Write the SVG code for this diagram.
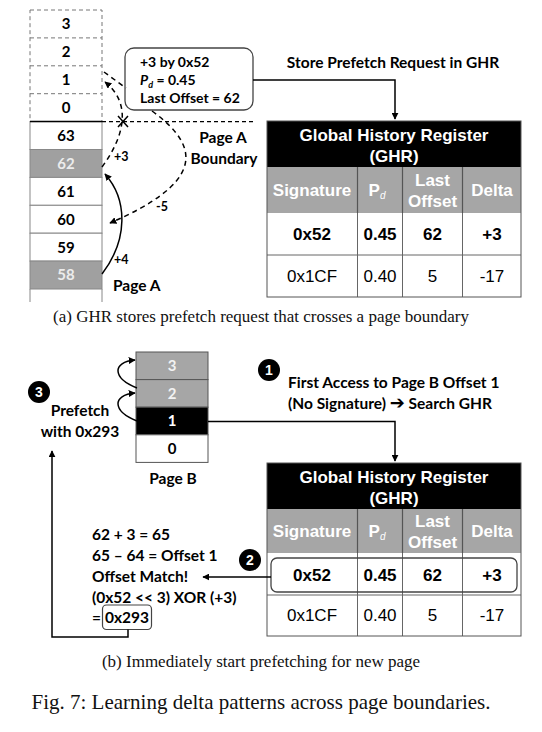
<svg xmlns="http://www.w3.org/2000/svg" width="542" height="732" viewBox="0 0 542 732">
<style>
.lb{font-family:Lato,"Open Sans","Liberation Sans",sans-serif;font-weight:bold;font-size:15.5px;fill:#000}
.co{font-size:14px}
.sm{font-size:12.5px}
.num{font-family:Lato,"Open Sans","Liberation Sans",sans-serif;font-weight:bold;font-size:15px;text-anchor:middle}
.cn{font-family:"Liberation Sans",Arial,sans-serif;font-weight:bold;font-size:14px;text-anchor:middle;fill:#fff}
.tb{font-family:"Liberation Sans",Arial,sans-serif;font-size:17px;text-anchor:middle}
.th{font-weight:bold;fill:#fff}
.cap{font-family:"Liberation Serif","Times New Roman",serif;font-size:17px;text-anchor:middle;fill:#111}
.fig{font-size:21px}
.dash{fill:none;stroke:#000;stroke-width:1.5;stroke-dasharray:5,4}
.sol{fill:none;stroke:#000;stroke-width:1.5}
.cell{stroke:#666;stroke-width:1}
.gridl{stroke:#555;stroke-width:1.2}
</style>
<defs>
<marker id="ah" viewBox="0 0 10 10" refX="9" refY="5" markerWidth="7" markerHeight="7" orient="auto" markerUnits="userSpaceOnUse">
<path d="M0,0 L10,5 L0,10 z" fill="#000"/>
</marker>
</defs>

<!-- Page A column -->
<g id="pageA">
<rect x="30" y="10" width="72" height="111.6" fill="#fff" stroke="#777" stroke-width="1" stroke-dasharray="4,3"/>
<line x1="30" y1="37.9" x2="102" y2="37.9" stroke="#777" stroke-dasharray="4,3"/>
<line x1="30" y1="65.8" x2="102" y2="65.8" stroke="#777" stroke-dasharray="4,3"/>
<line x1="30" y1="93.7" x2="102" y2="93.7" stroke="#777" stroke-dasharray="4,3"/>
<rect x="30" y="121.6" width="72" height="27.9" fill="#fff" stroke="#888"/>
<rect x="30" y="149.5" width="72" height="27.9" fill="#a0a0a0" stroke="#888"/>
<rect x="30" y="177.4" width="72" height="27.9" fill="#fff" stroke="#888"/>
<rect x="30" y="205.3" width="72" height="27.9" fill="#fff" stroke="#888"/>
<rect x="30" y="233.2" width="72" height="27.9" fill="#fff" stroke="#888"/>
<rect x="30" y="261.1" width="72" height="27.9" fill="#a0a0a0" stroke="#888"/>
<line x1="30" y1="289" x2="30" y2="302" stroke="#888"/>
<line x1="102" y1="289" x2="102" y2="302" stroke="#888"/>
<text class="num" x="66" y="29">3</text>
<text class="num" x="66" y="57">2</text>
<text class="num" x="66" y="85">1</text>
<text class="num" x="66" y="113">0</text>
<text class="num" x="66" y="141">63</text>
<text class="num" x="66" y="169" fill="#ececec">62</text>
<text class="num" x="66" y="197">61</text>
<text class="num" x="66" y="225">60</text>
<text class="num" x="66" y="253">59</text>
<text class="num" x="66" y="280" fill="#ececec">58</text>
<text class="lb" x="113" y="291">Page A</text>
</g>

<!-- boundary -->
<g id="boundary">
<line x1="30" y1="121.6" x2="102" y2="121.6" stroke="#000" stroke-width="1.5"/>
<line x1="102" y1="121.6" x2="256" y2="121.6" stroke="#000" stroke-width="1.2" stroke-dasharray="4,3"/>
<text class="lb" x="223" y="143" text-anchor="middle">Page A</text>
<text class="lb" x="224" y="164" text-anchor="middle">Boundary</text>
</g>

<!-- callout -->
<g id="callout">
<rect x="125" y="48" width="128" height="62" rx="9" fill="#fff" stroke="#444" stroke-width="1.3"/>
<text class="lb co" x="140" y="67">+3 by 0x52</text>
<text class="lb co" x="140" y="85"><tspan font-style="italic">P</tspan><tspan font-style="italic" font-size="9" dy="3">d</tspan><tspan dy="-3"> = 0.45</tspan></text>
<text class="lb co" x="140" y="103">Last Offset = 62</text>
</g>
<text class="lb" x="393" y="68" text-anchor="middle">Store Prefetch Request in GHR</text>

<!-- table A -->
<g id="ghrA">
<rect x="267" y="121" width="254" height="46" fill="#000"/>
<rect x="267" y="167" width="254" height="46" fill="#a6a6a6"/>
<rect x="267" y="213" width="254" height="84" fill="#fff"/>
<line class="gridl" x1="357.5" y1="167" x2="357.5" y2="213"/>
<line class="gridl" x1="402.5" y1="167" x2="402.5" y2="213"/>
<line class="gridl" x1="462.5" y1="167" x2="462.5" y2="213"/>
<line class="cell" x1="357.5" y1="213" x2="357.5" y2="297"/>
<line class="cell" x1="402.5" y1="213" x2="402.5" y2="297"/>
<line class="cell" x1="462.5" y1="213" x2="462.5" y2="297"/>
<line class="cell" x1="267" y1="255" x2="521" y2="255"/>
<rect x="267" y="121" width="254" height="176" fill="none" stroke="#555" stroke-width="1"/>
<text class="tb th" x="394" y="141">Global History Register</text>
<text class="tb th" x="394" y="162">(GHR)</text>
<text class="tb th" x="312" y="196">Signature</text>
<text class="tb th" x="377" y="196">P<tspan font-size="10" font-style="italic" font-weight="normal" dy="3">d</tspan></text>
<text class="tb th" x="432.5" y="186">Last</text>
<text class="tb th" x="432.5" y="207">Offset</text>
<text class="tb th" x="492" y="196">Delta</text>
<text class="tb" x="312" y="240" font-weight="bold">0x52</text>
<text class="tb" x="380" y="240" font-weight="bold">0.45</text>
<text class="tb" x="432.5" y="240" font-weight="bold">62</text>
<text class="tb" x="492" y="240" font-weight="bold">+3</text>
<text class="tb" x="312" y="282">0x1CF</text>
<text class="tb" x="380" y="282">0.40</text>
<text class="tb" x="432.5" y="282">5</text>
<text class="tb" x="492" y="282">-17</text>
</g>

<!-- connectors A -->
<g id="connectorsA">
<path class="sol" d="M102,274 C128,240 128,200 105,174" marker-end="url(#ah)"/>
<path class="dash" d="M102,167 C122,140 134,105 105,82" marker-end="url(#ah)"/>
<path class="dash" d="M104,72 L126,88"/>
<path class="dash" d="M152,111 C206,150 198,185 110,223" marker-end="url(#ah)"/>
<path d="M118,116 L128,127 M128,116 L118,127" stroke="#000" stroke-width="1.5"/>
<path class="sol" d="M253,80 H395 V119" marker-end="url(#ah)"/>
<text class="lb sm" x="114" y="161">+3</text>
<text class="lb sm" x="114" y="264">+4</text>
<text class="lb sm" x="156" y="211">-5</text>
</g>

<text class="cap" x="261" y="322">(a) GHR stores prefetch request that crosses a page boundary</text>

<!-- Page B column -->
<g id="pageB">
<rect x="136" y="352" width="72" height="27.6" fill="#a6a6a6" stroke="#555"/>
<rect x="136" y="379.6" width="72" height="27.6" fill="#a6a6a6" stroke="#555"/>
<rect x="136" y="407.2" width="72" height="27.6" fill="#000" stroke="#555"/>
<rect x="136" y="434.8" width="72" height="27.6" fill="#fff" stroke="#555"/>
<text class="num" x="172" y="371" fill="#f2f2f2">3</text>
<text class="num" x="172" y="399" fill="#f2f2f2">2</text>
<text class="num" x="172" y="426" fill="#fff">1</text>
<text class="num" x="172" y="454">0</text>
<text class="lb" x="173" y="484" text-anchor="middle">Page B</text>
</g>

<g id="step3">
<circle cx="39" cy="392" r="11" fill="#000"/>
<text class="cn" x="39" y="397">3</text>
<text class="lb" x="80" y="416" text-anchor="middle">Prefetch</text>
<text class="lb" x="80" y="437" text-anchor="middle">with 0x293</text>
</g>

<g id="step1">
<circle cx="269" cy="370" r="11" fill="#000"/>
<text class="cn" x="269" y="375">1</text>
<text class="lb" x="288" y="388">First Access to Page B Offset 1</text>
<text class="lb" x="288" y="409">(No Signature) <tspan font-family="'DejaVu Sans',sans-serif" font-size="18">➔</tspan> Search GHR</text>
</g>

<g id="step2">
<circle cx="250" cy="560" r="11" fill="#000"/>
<text class="cn" x="250" y="565">2</text>
<text class="lb" x="92" y="540">62 + 3 = 65</text>
<text class="lb" x="92" y="561">65 – 64 = Offset 1</text>
<text class="lb" x="92" y="582">Offset Match!</text>
<text class="lb" x="92" y="603">(0x52 &lt;&lt; 3) XOR (+3)</text>
<text class="lb" x="92" y="623">=</text>
<rect x="102.5" y="605" width="49" height="24.5" rx="4" fill="none" stroke="#444" stroke-width="1.2"/>
<text class="lb" x="105" y="623">0x293</text>
</g>

<!-- table B -->
<g id="ghrB">
<rect x="267" y="463" width="254" height="46" fill="#000"/>
<rect x="267" y="509" width="254" height="44" fill="#a6a6a6"/>
<rect x="267" y="553" width="254" height="83" fill="#fff"/>
<line class="gridl" x1="357.5" y1="509" x2="357.5" y2="553"/>
<line class="gridl" x1="402.5" y1="509" x2="402.5" y2="553"/>
<line class="gridl" x1="462.5" y1="509" x2="462.5" y2="553"/>
<line class="cell" x1="357.5" y1="553" x2="357.5" y2="636"/>
<line class="cell" x1="402.5" y1="553" x2="402.5" y2="636"/>
<line class="cell" x1="462.5" y1="553" x2="462.5" y2="636"/>
<line class="cell" x1="267" y1="595" x2="521" y2="595"/>
<rect x="267" y="463" width="254" height="173" fill="none" stroke="#555" stroke-width="1"/>
<rect x="271" y="558" width="246" height="34" rx="6" fill="none" stroke="#444" stroke-width="1.3"/>
<text class="tb th" x="394" y="483">Global History Register</text>
<text class="tb th" x="394" y="504">(GHR)</text>
<text class="tb th" x="312" y="537">Signature</text>
<text class="tb th" x="377" y="537">P<tspan font-size="10" font-style="italic" font-weight="normal" dy="3">d</tspan></text>
<text class="tb th" x="432.5" y="527">Last</text>
<text class="tb th" x="432.5" y="548">Offset</text>
<text class="tb th" x="492" y="537">Delta</text>
<text class="tb" x="312" y="581" font-weight="bold">0x52</text>
<text class="tb" x="380" y="581" font-weight="bold">0.45</text>
<text class="tb" x="432.5" y="581" font-weight="bold">62</text>
<text class="tb" x="492" y="581" font-weight="bold">+3</text>
<text class="tb" x="312" y="621">0x1CF</text>
<text class="tb" x="380" y="621">0.40</text>
<text class="tb" x="432.5" y="621">5</text>
<text class="tb" x="492" y="621">-17</text>
</g>

<!-- connectors B -->
<g id="connectorsB">
<path class="sol" d="M137,388 C112,378 112,362 135,360" marker-end="url(#ah)"/>
<path class="sol" d="M137,421 C112,411 112,395 135,393" marker-end="url(#ah)"/>
<path class="sol" d="M208,421.5 H395 V461" marker-end="url(#ah)"/>
<path class="sol" d="M271,577 H203" marker-end="url(#ah)"/>
<path class="sol" d="M128,629.5 V637 H52 V451" marker-end="url(#ah)"/>
</g>

<text class="cap" x="261" y="667">(b) Immediately start prefetching for new page</text>
<text class="cap fig" x="261" y="709">Fig. 7: Learning delta patterns across page boundaries.</text>
</svg>
